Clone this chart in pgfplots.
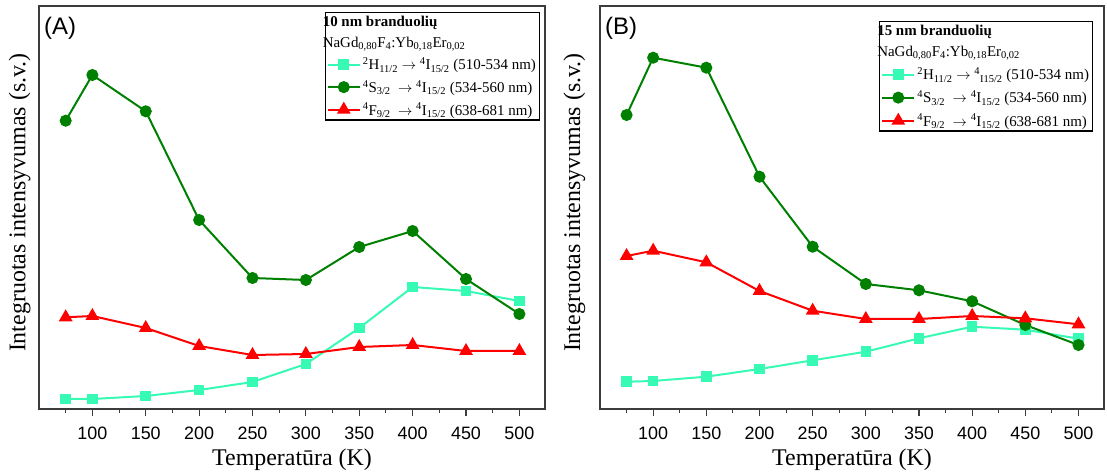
\documentclass[border=0pt]{standalone}
\usepackage{fontspec}
\setmainfont{Liberation Serif}
\setsansfont{Liberation Sans}
\usepackage{pgfplots}
\pgfplotsset{compat=1.18}

\definecolor{hcol}{RGB}{55,250,180}
\definecolor{scol}{RGB}{0,128,0}
\definecolor{fcol}{RGB}{255,0,0}
\definecolor{spine}{RGB}{60,60,60}

\newcommand{\lf}{\fontsize{15}{18}\selectfont}

\pgfplotsset{
  panel/.style={
    scale only axis, width=506bp, height=403bp,
    xmin=50, xmax=524, ymin=1, ymax=404,
    axis line style={spine, line width=1.3bp},
    xtick={100,150,...,500}, minor xtick={75,125,...,475},
    ytick=\empty,
    tick align=outside, xtick pos=bottom,
    major tick length=7bp, minor tick length=4bp,
    tick style={spine, line width=1.1bp},
    xticklabel style={font=\fontsize{18}{20}\sffamily, yshift=-7bp},
    /pgf/number format/assume math mode=true,
    xlabel={Temperatūra (K)}, ylabel={Integruotas intensyvumas (s.v.)},
    label style={font=\fontsize{24}{26}\selectfont},
    xlabel style={at={(rel axis cs:0.5,0)}, anchor=base, yshift=-56bp},
    legend cell align=left,
    legend style={at={(1,1)}, anchor=north east, xshift=-5bp, yshift=-6bp,
      draw=black, line width=1.1bp, font=\lf, nodes={font=\lf},
      row sep=5bp, inner sep=1.5bp},
    legend image code/.code={\draw[mark repeat=2,mark phase=2,##1]
      plot coordinates {(0bp,0bp)(16bp,0bp)(32bp,0bp)};},
    clip=false,
  },
  hline/.style={color=hcol, line width=2bp, mark=square*, mark size=4.3bp, mark options={solid}},
  sline/.style={color=scol, line width=2bp, mark=*, mark size=5bp, mark options={solid}},
  fline/.style={color=fcol, line width=2bp, mark=triangle*, mark size=6bp, mark options={solid}},
}

% 10 nm cores
\pgfplotstableread{
T    H      S      F
75   11     289.3  92.7
100  11     335    94
150  14     298.7  82
200  20     190    64
250  28     132    55
300  46     130    56
350  82     163    63
400  123    179    65
450  119    131    59
500  109    96     59
}\tenA

% 15 nm cores
\pgfplotstableread{
T    H      S      F
75   28.3   295    154
100  29     352.3  159.3
150  33.3   342.3  147.7
200  41     233.3  119
250  49.7   163.3  99.3
300  58.3   126    91
350  71.7   119.7  91
400  83.3   108.7  94
450  80.3   85     91.7
500  71.3   65     85.7
}\fifteenB

\begin{document}
\begin{tikzpicture}
\useasboundingbox (0,0) rectangle (1107bp,474bp);

\begin{axis}[panel, at={(39bp,65bp)}, anchor=south west, width=506bp,
  ylabel style={at={(rel axis cs:-0.01,0.512)}, anchor=south}]
  \addlegendimage{empty legend}
  \addlegendentry{\lf\hspace*{-40bp}\textbf{10 nm branduolių}}
  \addlegendimage{empty legend}
  \addlegendentry{\lf\hspace*{-40bp}NaGd\textsubscript{0,80}F\textsubscript{4}:Yb\textsubscript{0,18}Er\textsubscript{0,02}}
  \addplot[hline] table[x=T, y=H] {\tenA};
  \addlegendentry{\lf\textsuperscript{2}H\textsubscript{11/2} $\rightarrow$ \textsuperscript{4}I\textsubscript{15/2} (510-534 nm)}
  \addplot[sline] table[x=T, y=S] {\tenA};
  \addlegendentry{\lf\textsuperscript{4}S\textsubscript{3/2} \ $\rightarrow$ \textsuperscript{4}I\textsubscript{15/2} (534-560 nm)}
  \addplot[fline] table[x=T, y=F] {\tenA};
  \addlegendentry{\lf\textsuperscript{4}F\textsubscript{9/2} \ $\rightarrow$ \textsuperscript{4}I\textsubscript{15/2} (638-681 nm)}
  \node[anchor=north west, inner sep=0pt, font=\fontsize{24}{26}\sffamily]
    at (rel axis cs:0,1) [xshift=5bp, yshift=-11bp] {(A)};
\end{axis}

\begin{axis}[panel, at={(600bp,65bp)}, anchor=south west, width=504bp,
  ylabel style={at={(rel axis cs:-0.022,0.512)}, anchor=south},
  legend style={xshift=-6bp, yshift=-9bp, row sep=5.5bp}]
  \addlegendimage{empty legend}
  \addlegendentry{\lf\hspace*{-40bp}\textbf{15 nm branduolių}}
  \addlegendimage{empty legend}
  \addlegendentry{\lf\hspace*{-40bp}NaGd\textsubscript{0,80}F\textsubscript{4}:Yb\textsubscript{0,18}Er\textsubscript{0,02}}
  \addplot[hline] table[x=T, y=H] {\fifteenB};
  \addlegendentry{\lf\textsuperscript{2}H\textsubscript{11/2} $\rightarrow$ \textsuperscript{4}\textsubscript{I15/2} (510-534 nm)}
  \addplot[sline] table[x=T, y=S] {\fifteenB};
  \addlegendentry{\lf\textsuperscript{4}S\textsubscript{3/2} \ $\rightarrow$ \textsuperscript{4}I\textsubscript{15/2} (534-560 nm)}
  \addplot[fline] table[x=T, y=F] {\fifteenB};
  \addlegendentry{\lf\textsuperscript{4}F\textsubscript{9/2} \ $\rightarrow$ \textsuperscript{4}I\textsubscript{15/2} (638-681 nm)}
  \node[anchor=north west, inner sep=0pt, font=\fontsize{24}{26}\sffamily]
    at (rel axis cs:0,1) [xshift=5bp, yshift=-11bp] {(B)};
\end{axis}
\end{tikzpicture}
\end{document}
